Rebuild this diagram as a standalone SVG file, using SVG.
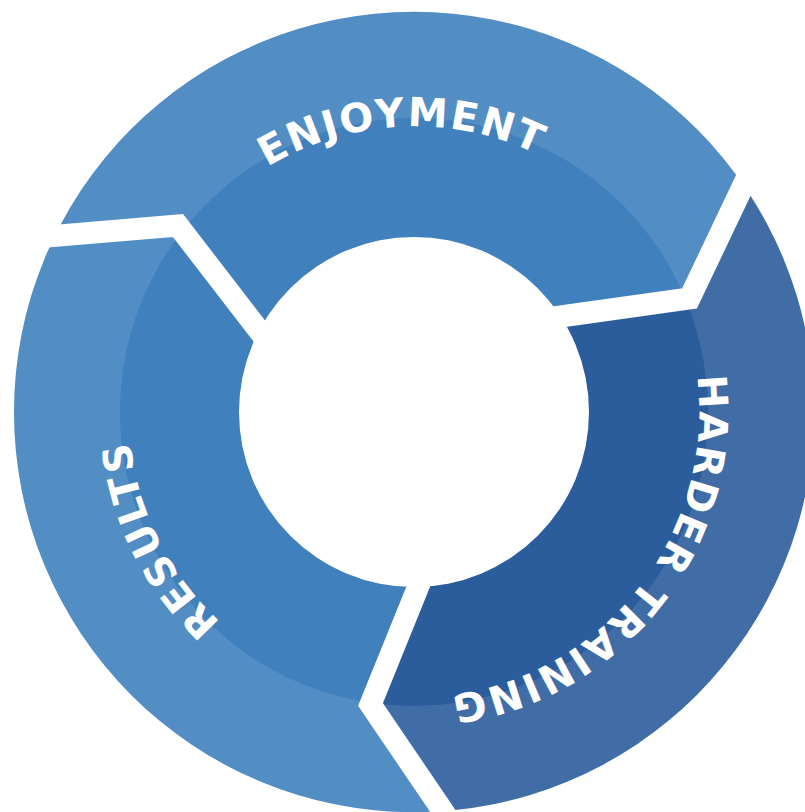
<svg xmlns="http://www.w3.org/2000/svg" width="805" height="812" viewBox="0 0 805 812">
<style>
  .seg-light{fill:#3F80BD}
  .seg-dark{fill:#2B5D9C}
  .label{font-family:"DejaVu Sans","Liberation Sans",sans-serif;font-weight:bold;font-size:40px;fill:#FFFFFF;letter-spacing:2px}
  .gap{fill:none;stroke:#FFFFFF;stroke-width:22;stroke-linejoin:miter;stroke-miterlimit:10}
  .band{fill:#FFFFFF;fill-opacity:0.1;fill-rule:evenodd}
</style>
<defs>
  <clipPath id="ring">
    <path clip-rule="evenodd" d="M14,412 a400,400 0 1,0 800,0 a400,400 0 1,0 -800,0 Z M239,412 a175,175 0 1,0 350,0 a175,175 0 1,0 -350,0 Z"/>
  </clipPath>
  <path id="textCircle" d="M146.19,314.52 A285,285 0 1 1 681.81,509.48 A285,285 0 1 1 146.19,314.52"/>
</defs>
<rect width="805" height="812" fill="#FFFFFF"/>

<g id="enjoyment">
  <path class="seg-light" clip-path="url(#ring)" d="M-6.8,241 L178,225.5 L282.9,361.7 L414,412 L521.4,322 L689.5,298.5 L769.8,129.8 L1000,-300 L-300,-300 L-300,241 Z"/>
</g>
<g id="harder-training">
  <path class="seg-dark" clip-path="url(#ring)" d="M769.8,129.8 L689.5,298.5 L521.4,322 L414,412 L433.5,548.9 L370.5,704.5 L460.4,836.8 L460,1100 L1100,1100 L1100,-300 L1000,-300 Z"/>
</g>
<g id="results">
  <path class="seg-light" clip-path="url(#ring)" d="M460.4,836.8 L370.5,704.5 L433.5,548.9 L414,412 L282.9,361.7 L178,225.5 L-6.8,241 L-300,241 L-300,1100 L460,1100 Z"/>
</g>

<path id="outer-band" class="band" d="M14,412 a400,400 0 1,0 800,0 a400,400 0 1,0 -800,0 Z M120,412 a294,294 0 1,0 588,0 a294,294 0 1,0 -588,0 Z"/>

<g id="connectors">
  <polyline class="gap" points="-6.8,241 178,225.5 282.9,361.7"/>
  <polyline class="gap" points="769.8,129.8 689.5,298.5 521.4,322"/>
  <polyline class="gap" points="460.4,836.8 370.5,704.5 433.5,548.9"/>
</g>

<g id="labels">
  <text class="label" text-anchor="middle"><textPath href="#textCircle" startOffset="336">ENJOYMENT</textPath></text>
  <text class="label" text-anchor="middle"><textPath href="#textCircle" startOffset="985">HARDER TRAINING</textPath></text>
  <text class="label" text-anchor="middle"><textPath href="#textCircle" startOffset="1561">RESULTS</textPath></text>
</g>
</svg>
